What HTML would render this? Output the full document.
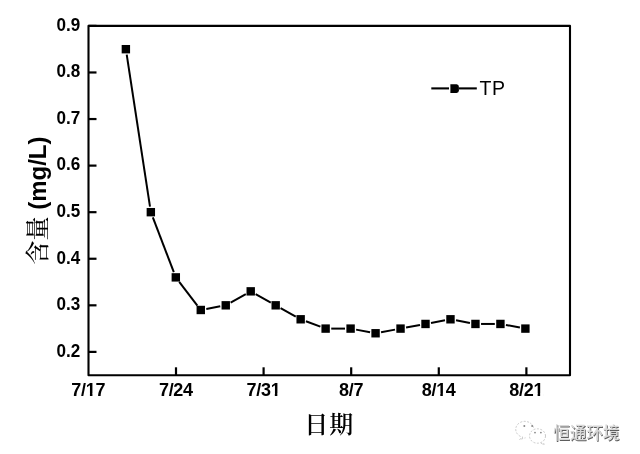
<!DOCTYPE html>
<html><head><meta charset="utf-8"><style>
html,body{margin:0;padding:0;background:#fff;}
body{width:640px;height:454px;overflow:hidden;position:relative;}
svg{position:absolute;left:0;top:0;}
.b{font-family:"Liberation Sans",Arial,sans-serif;font-weight:bold;font-size:18px;fill:#000;}
.cjk{font-family:"Liberation Serif","Noto Serif CJK SC",serif;fill:#000;}
</style></head><body>
<svg width="640" height="454" viewBox="0 0 640 454">
<rect x="88.5" y="25.9" width="481.50" height="349.40" fill="none" stroke="#000" stroke-width="2.1" stroke-linejoin="round"/>
<g stroke="#000" stroke-width="2.2" stroke-linecap="butt"><line x1="88.5" y1="351.89" x2="96.5" y2="351.89"/><line x1="88.5" y1="305.32" x2="96.5" y2="305.32"/><line x1="88.5" y1="258.75" x2="96.5" y2="258.75"/><line x1="88.5" y1="212.18" x2="96.5" y2="212.18"/><line x1="88.5" y1="165.61" x2="96.5" y2="165.61"/><line x1="88.5" y1="119.04" x2="96.5" y2="119.04"/><line x1="88.5" y1="72.47" x2="96.5" y2="72.47"/><line x1="88.5" y1="25.90" x2="96.5" y2="25.90"/><line x1="176.00" y1="375.3" x2="176.00" y2="367.3"/><line x1="263.60" y1="375.3" x2="263.60" y2="367.3"/><line x1="351.19" y1="375.3" x2="351.19" y2="367.3"/><line x1="438.79" y1="375.3" x2="438.79" y2="367.3"/><line x1="526.39" y1="375.3" x2="526.39" y2="367.3"/></g>
<g class="b" text-anchor="end"><text transform="translate(80.3 356.64) scale(0.95 1)">0.2</text><text transform="translate(80.3 310.07) scale(0.95 1)">0.3</text><text transform="translate(80.3 263.50) scale(0.95 1)">0.4</text><text transform="translate(80.3 216.93) scale(0.95 1)">0.5</text><text transform="translate(80.3 170.36) scale(0.95 1)">0.6</text><text transform="translate(80.3 123.79) scale(0.95 1)">0.7</text><text transform="translate(80.3 77.22) scale(0.95 1)">0.8</text><text transform="translate(80.3 30.65) scale(0.95 1)">0.9</text></g>
<g class="b"><text x="71.33" y="395.6" letter-spacing="-0.3">7/17</text><text x="158.93" y="395.6" letter-spacing="-0.3">7/24</text><text x="246.53" y="395.6" letter-spacing="-0.3">7/31</text><text x="338.98" y="395.6" letter-spacing="-0.3">8/7</text><text x="421.73" y="395.6" letter-spacing="-0.3">8/14</text><text x="509.32" y="395.6" letter-spacing="-0.3">8/21</text></g>
<g fill="#fff"><rect x="86.10" y="393.58" width="3.83" height="3.02"/><rect x="92.43" y="393.58" width="3.57" height="3.02"/><rect x="271.00" y="393.58" width="3.83" height="3.02"/><rect x="277.34" y="393.58" width="3.66" height="3.02"/><rect x="436.49" y="393.58" width="3.83" height="3.02"/><rect x="442.83" y="393.58" width="3.17" height="3.02"/><rect x="533.80" y="393.58" width="3.83" height="3.02"/><rect x="540.13" y="393.58" width="2.87" height="3.02"/></g>
<g stroke="#000" stroke-width="2" stroke-linecap="butt"><line x1="126.72" y1="54.72" x2="149.99" y2="206.64"/><line x1="152.84" y1="217.41" x2="173.81" y2="272.15"/><line x1="179.22" y1="281.82" x2="197.37" y2="305.53"/><line x1="206.29" y1="308.95" x2="220.24" y2="306.35"/><line x1="230.64" y1="302.59" x2="245.83" y2="294.08"/><line x1="255.61" y1="294.08" x2="270.80" y2="302.59"/><line x1="280.58" y1="308.05" x2="295.77" y2="316.56"/><line x1="305.91" y1="321.25" x2="320.38" y2="326.65"/><line x1="331.23" y1="328.60" x2="345.00" y2="328.60"/><line x1="356.11" y1="329.63" x2="370.06" y2="332.24"/><line x1="381.08" y1="332.24" x2="395.03" y2="329.63"/><line x1="406.05" y1="327.58" x2="420.00" y2="324.97"/><line x1="431.02" y1="322.92" x2="444.97" y2="320.32"/><line x1="455.99" y1="320.32" x2="469.94" y2="322.92"/><line x1="481.05" y1="323.95" x2="494.82" y2="323.95"/><line x1="505.93" y1="324.97" x2="519.88" y2="327.58"/></g>
<g fill="#000"><rect x="121.67" y="44.99" width="8.4" height="8.4"/><rect x="146.64" y="207.98" width="8.4" height="8.4"/><rect x="171.61" y="273.18" width="8.4" height="8.4"/><rect x="196.58" y="305.78" width="8.4" height="8.4"/><rect x="221.55" y="301.12" width="8.4" height="8.4"/><rect x="246.52" y="287.15" width="8.4" height="8.4"/><rect x="271.49" y="301.12" width="8.4" height="8.4"/><rect x="296.46" y="315.09" width="8.4" height="8.4"/><rect x="321.43" y="324.40" width="8.4" height="8.4"/><rect x="346.40" y="324.40" width="8.4" height="8.4"/><rect x="371.37" y="329.06" width="8.4" height="8.4"/><rect x="396.34" y="324.40" width="8.4" height="8.4"/><rect x="421.31" y="319.75" width="8.4" height="8.4"/><rect x="446.28" y="315.09" width="8.4" height="8.4"/><rect x="471.25" y="319.75" width="8.4" height="8.4"/><rect x="496.22" y="319.75" width="8.4" height="8.4"/><rect x="521.19" y="324.40" width="8.4" height="8.4"/></g>
<g stroke="#000" stroke-width="2.1"><line x1="431.3" y1="88.4" x2="449" y2="88.4"/><line x1="459" y1="88.4" x2="476.8" y2="88.4"/></g>
<path d="M450.4 84.2 H456.6 Q458.9 84.4 458.9 86.8 V90.4 Q458.9 92.8 456.6 93 H450.4 Z" fill="#000"/>
<text x="479.6" y="94.6" font-family="Liberation Sans, Arial, sans-serif" font-size="19.5" letter-spacing="0.6" fill="#000">TP</text>
<text class="cjk" y="433" font-size="24" font-weight="600" text-anchor="middle"><tspan x="316.2">日</tspan><tspan x="341.3">期</tspan></text>
<g transform="translate(46 264.5) rotate(-90)">
<text x="0" y="0"><tspan class="cjk" font-size="24" font-weight="500">含量</tspan><tspan class="b" style="font-size:24px"> (mg/L)</tspan></text>
</g>
<g fill="none" stroke="#aaa" stroke-width="0.9" stroke-dasharray="2 1.5" opacity="0.7">
<path d="M533.5 427.5 A9 8 0 1 0 523 437.2 L519.5 439.5 L525.5 437.8"/>
<ellipse cx="537.5" cy="436" rx="8" ry="7.2"/>
<path d="M541 443 L544 445 L543.5 441.5"/>
</g>
<g fill="#888"><circle cx="524.3" cy="425.9" r="1"/><circle cx="532.2" cy="425.9" r="1"/><circle cx="535" cy="432.6" r="0.9"/><circle cx="540.9" cy="432.6" r="0.9"/></g>
<g font-family="Liberation Sans, 'Noto Sans CJK SC', sans-serif" font-size="16.6" font-weight="500"><text x="554.1" y="440.1" fill="#5e5e5e">恒通环境</text><text x="553.3" y="439.3" fill="#d8d8d8">恒通环境</text></g>
</svg>
</body></html>
